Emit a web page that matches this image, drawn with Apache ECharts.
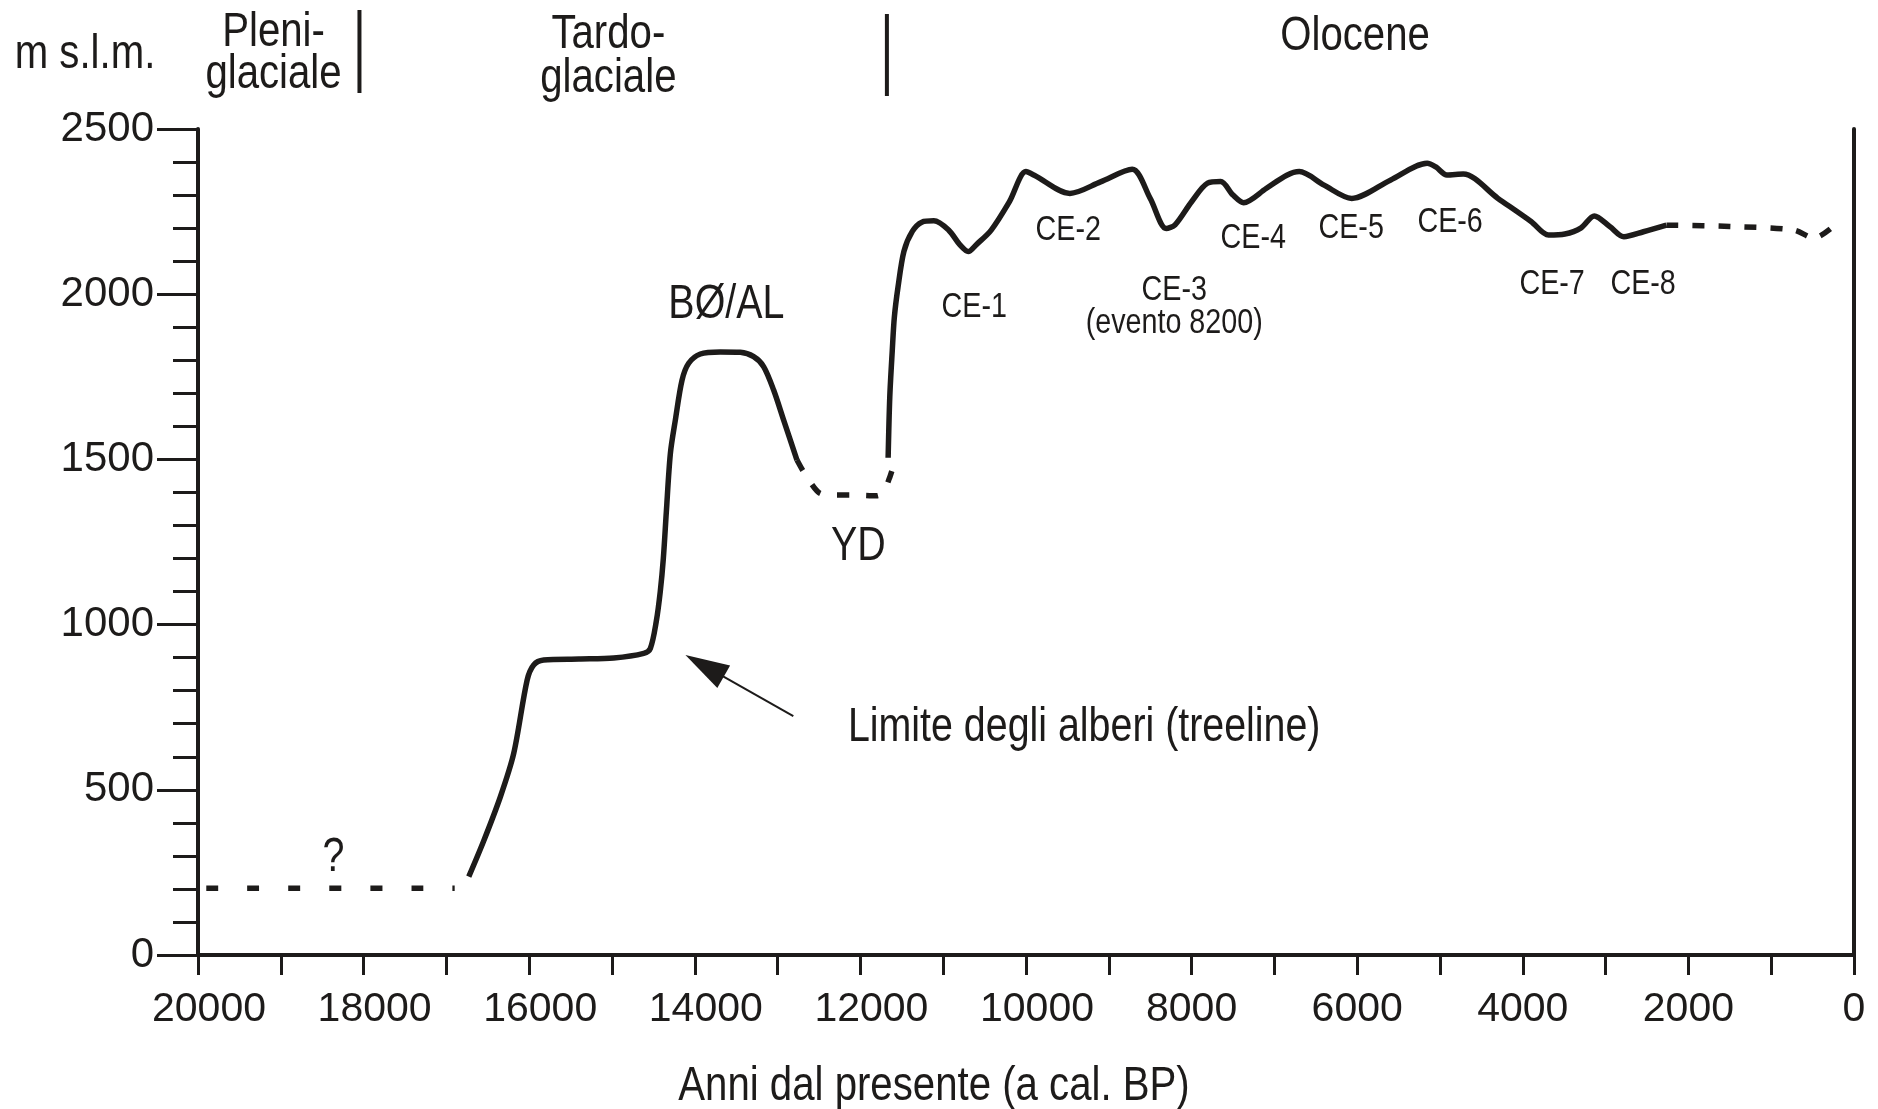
<!DOCTYPE html>
<html>
<head>
<meta charset="utf-8">
<script src="https://cdn.jsdelivr.net/npm/echarts@6/dist/echarts.min.js"></script>
<style>
  html, body { margin: 0; padding: 0; background: #ffffff; }
  #chart { width: 1878px; height: 1109px; }
</style>
</head>
<body>
<div id="chart"></div>
<script>
// Treeline elevation (m a.s.l.) through the last 20 000 calibrated years BP

// Full-glacial stretch, uncertain (dashed)
const pleniYears = [19900, 16900];
const pleniElev  = [202, 202];

// Late-glacial rise up to the Bølling/Allerød plateau
const lateYears = [16730, 16550, 16348, 16187, 16025, 15946, 15825, 15400, 14980, 14617, 14537,
                   14465, 14417, 14380, 14344, 14295, 14235, 14154, 14074, 13933, 13692, 13450,
                   13289, 13169, 13048, 12927, 12766];
const lateElev  = [237, 345, 479, 610, 832, 878, 893, 896, 899, 913, 928,
                   1010, 1100, 1200, 1340, 1518, 1619, 1740, 1791, 1819, 1825, 1824,
                   1811, 1781, 1710, 1619, 1498];

// Younger Dryas depression (dashed)
const ydYears = [12766, 12700, 12625, 12484, 12300, 12082, 11800, 11720, 11640, 11600];
const ydElev  = [1498, 1468, 1438, 1397, 1392, 1392, 1390, 1402, 1450, 1482];

// Holocene curve with the climatic oscillations CE-1 ... CE-8
const holoYears = [11665, 11645, 11615, 11590, 11546, 11474, 11373, 11258, 11113, 10934,
                   10800, 10697, 10600, 10420, 10200, 10001, 9900, 9470, 9100, 8717, 8500, 8307,
                   8200, 8000, 7807, 7649, 7500, 7372, 7100, 6850, 6699, 6400, 6066, 5600, 5155,
                   5050, 4917, 4719, 4300, 3900, 3690, 3492, 3300, 3136, 2950, 2779, 2543, 2265];
const holoElev  = [1505, 1690, 1830, 1930, 2021, 2130, 2190, 2218, 2222, 2194,
                   2150, 2129, 2150, 2194, 2280, 2371, 2360, 2305, 2340, 2378, 2290, 2199,
                   2210, 2280, 2336, 2341, 2300, 2277, 2320, 2360, 2371, 2330, 2290, 2345, 2396,
                   2385, 2361, 2364, 2290, 2220, 2179, 2182, 2200, 2237, 2205, 2174, 2189, 2209];

// Last two millennia (dashed)
const recentYears = [2265, 1500, 725, 483, 250];
const recentElev  = [2209, 2205, 2194, 2170, 2205];

// Axis texts
const xTitle = 'Anni dal presente (a cal. BP)';
const yTitle = 'm s.l.m.';
const periodNames   = [['Pleni-', 'glaciale'], ['Tardo-', 'glaciale'], ['Olocene']];
const periodCenters = [19088, 15044, 6026];
const periodBounds  = [18050, 11680];

// Annotations anchored in data space (year BP, elevation)
const bigNotes      = ['BØ/AL', 'YD', '?', 'Limite degli alberi (treeline)'];
const bigNoteYears  = [13619, 12025, 18364, 9297];
const bigNoteElev   = [1967, 1235, 294, 687];
const ceNotes       = ['CE-1', 'CE-2', 'CE-3\n(evento 8200)', 'CE-4', 'CE-5', 'CE-6', 'CE-7', 'CE-8'];
const ceNoteYears   = [10625, 9490, 8210, 7256, 6073, 4878, 3646, 2547];
const ceNoteElev    = [1961, 2194, 1962, 2170, 2200, 2218, 2031, 2031];
const arrowFrom     = [12810, 723];
const arrowTo       = [13882, 875];

const INK = '#1d1b1a';
const SANS = '"Liberation Sans", Arial, Helvetica, sans-serif';
const NARROW_SCALE = 0.82;   // condensed lettering for titles and notes

const zip = (xs, ys) => xs.map((x, i) => [x, ys[i]]);

function curve(name, years, elev, dash) {
  return {
    name: name,
    type: 'line',
    data: zip(years, elev),
    smooth: 0.3,
    showSymbol: false,
    symbol: 'none',
    silent: true,
    animation: false,
    lineStyle: { color: INK, width: 5.5, type: dash || 'solid', cap: 'butt', join: 'round' },
    z: 3
  };
}

const chart = echarts.init(document.getElementById('chart'), null, { renderer: 'canvas' });

const lateSeries = curve('tardoglaciale', lateYears, lateElev);
lateSeries.markLine = {
  silent: true,
  animation: false,
  symbol: ['none', 'triangle'],
  symbolSize: [26, 44],
  label: { show: false },
  lineStyle: { color: INK, width: 2, type: 'solid' },
  data: [[{ coord: arrowFrom }, { coord: arrowTo }]]
};

const option = {
  backgroundColor: '#ffffff',
  animation: false,
  grid: { left: 198, right: 24, top: 129, bottom: 154, containLabel: false },
  xAxis: {
    type: 'value',
    min: 0,
    max: 20000,
    interval: 1000,
    inverse: true,
    axisLine: { show: true, onZero: false, lineStyle: { color: INK, width: 4 } },
    axisTick: { show: true, length: 20, lineStyle: { color: INK, width: 3 } },
    axisLabel: {
      margin: 34,
      color: INK,
      fontFamily: SANS,
      fontSize: 41,
      // five-digit years sit slightly right of their tick
      formatter: v => (v % 2000 !== 0 ? '' : (v >= 10000 ? '{w|' + v + '}' : String(v))),
      rich: { w: { fontFamily: SANS, fontSize: 41, color: INK, padding: [0, 0, 0, 22] } }
    },
    splitLine: { show: false }
  },
  yAxis: [
    {
      type: 'value',
      min: 0,
      max: 2500,
      interval: 500,
      axisLine: { show: true, onZero: false, lineStyle: { color: INK, width: 4 } },
      axisTick: { show: true, length: 41, lineStyle: { color: INK, width: 3 } },
      minorTick: { show: true, splitNumber: 5, length: 25, lineStyle: { color: INK, width: 3 } },
      axisLabel: { margin: 44, color: INK, fontFamily: SANS, fontSize: 42, formatter: v => String(v) },
      splitLine: { show: false },
      minorSplitLine: { show: false }
    },
    {
      type: 'value',
      position: 'right',
      min: 0,
      max: 2500,
      axisLine: { show: true, onZero: false, lineStyle: { color: INK, width: 4 } },
      axisTick: { show: false },
      axisLabel: { show: false },
      splitLine: { show: false }
    }
  ],
  series: [
    curve('pleniglaciale', pleniYears, pleniElev, [12, 29]),
    lateSeries,
    curve('younger dryas', ydYears, ydElev, [12, 17]),
    curve('olocene', holoYears, holoElev),
    curve('recente', recentYears, recentElev, [12, 14])
  ]
};

chart.setOption(option);

// Condensed text drawn at a pixel anchor
const narrowText = (text, x, y, size, lineHeight) => ({
  type: 'text',
  silent: true,
  x: x,
  y: y,
  scaleX: NARROW_SCALE,
  z: 10,
  style: {
    text: text,
    x: 0,
    y: 0,
    fill: INK,
    font: size + 'px ' + SANS,
    lineHeight: lineHeight || size,
    align: 'center',
    verticalAlign: 'middle'
  }
});

const xpx = yr => chart.convertToPixel({ xAxisIndex: 0 }, yr);
const ptpx = (yr, el) => chart.convertToPixel({ gridIndex: 0 }, [yr, el]);

const graphics = [];

// Unit of the elevation axis and title of the time axis
graphics.push(narrowText(yTitle, 85, 54, 49));
graphics.push(narrowText(xTitle, 934, 1086, 49));

// Period names above the plot and their boundaries
const lineRows = [[32, 74], [34, 78], [36]];
periodNames.forEach((lines, i) => {
  lines.forEach((t, j) => graphics.push(narrowText(t, xpx(periodCenters[i]), lineRows[i][j], 49)));
});
const barSpans = [[10, 93], [14, 96]];
periodBounds.forEach((yr, i) => {
  const x = xpx(yr);
  graphics.push({
    type: 'line',
    silent: true,
    shape: { x1: x, y1: barSpans[i][0], x2: x, y2: barSpans[i][1] },
    style: { stroke: INK, lineWidth: 4 }
  });
});

// Notes inside the plot
bigNotes.forEach((t, i) => {
  const p = ptpx(bigNoteYears[i], bigNoteElev[i]);
  graphics.push(narrowText(t, p[0], p[1], 48));
});
ceNotes.forEach((t, i) => {
  const p = ptpx(ceNoteYears[i], ceNoteElev[i]);
  graphics.push(narrowText(t, p[0], p[1], 35, 33));
});

chart.setOption({ graphic: graphics });
</script>
</body>
</html>
